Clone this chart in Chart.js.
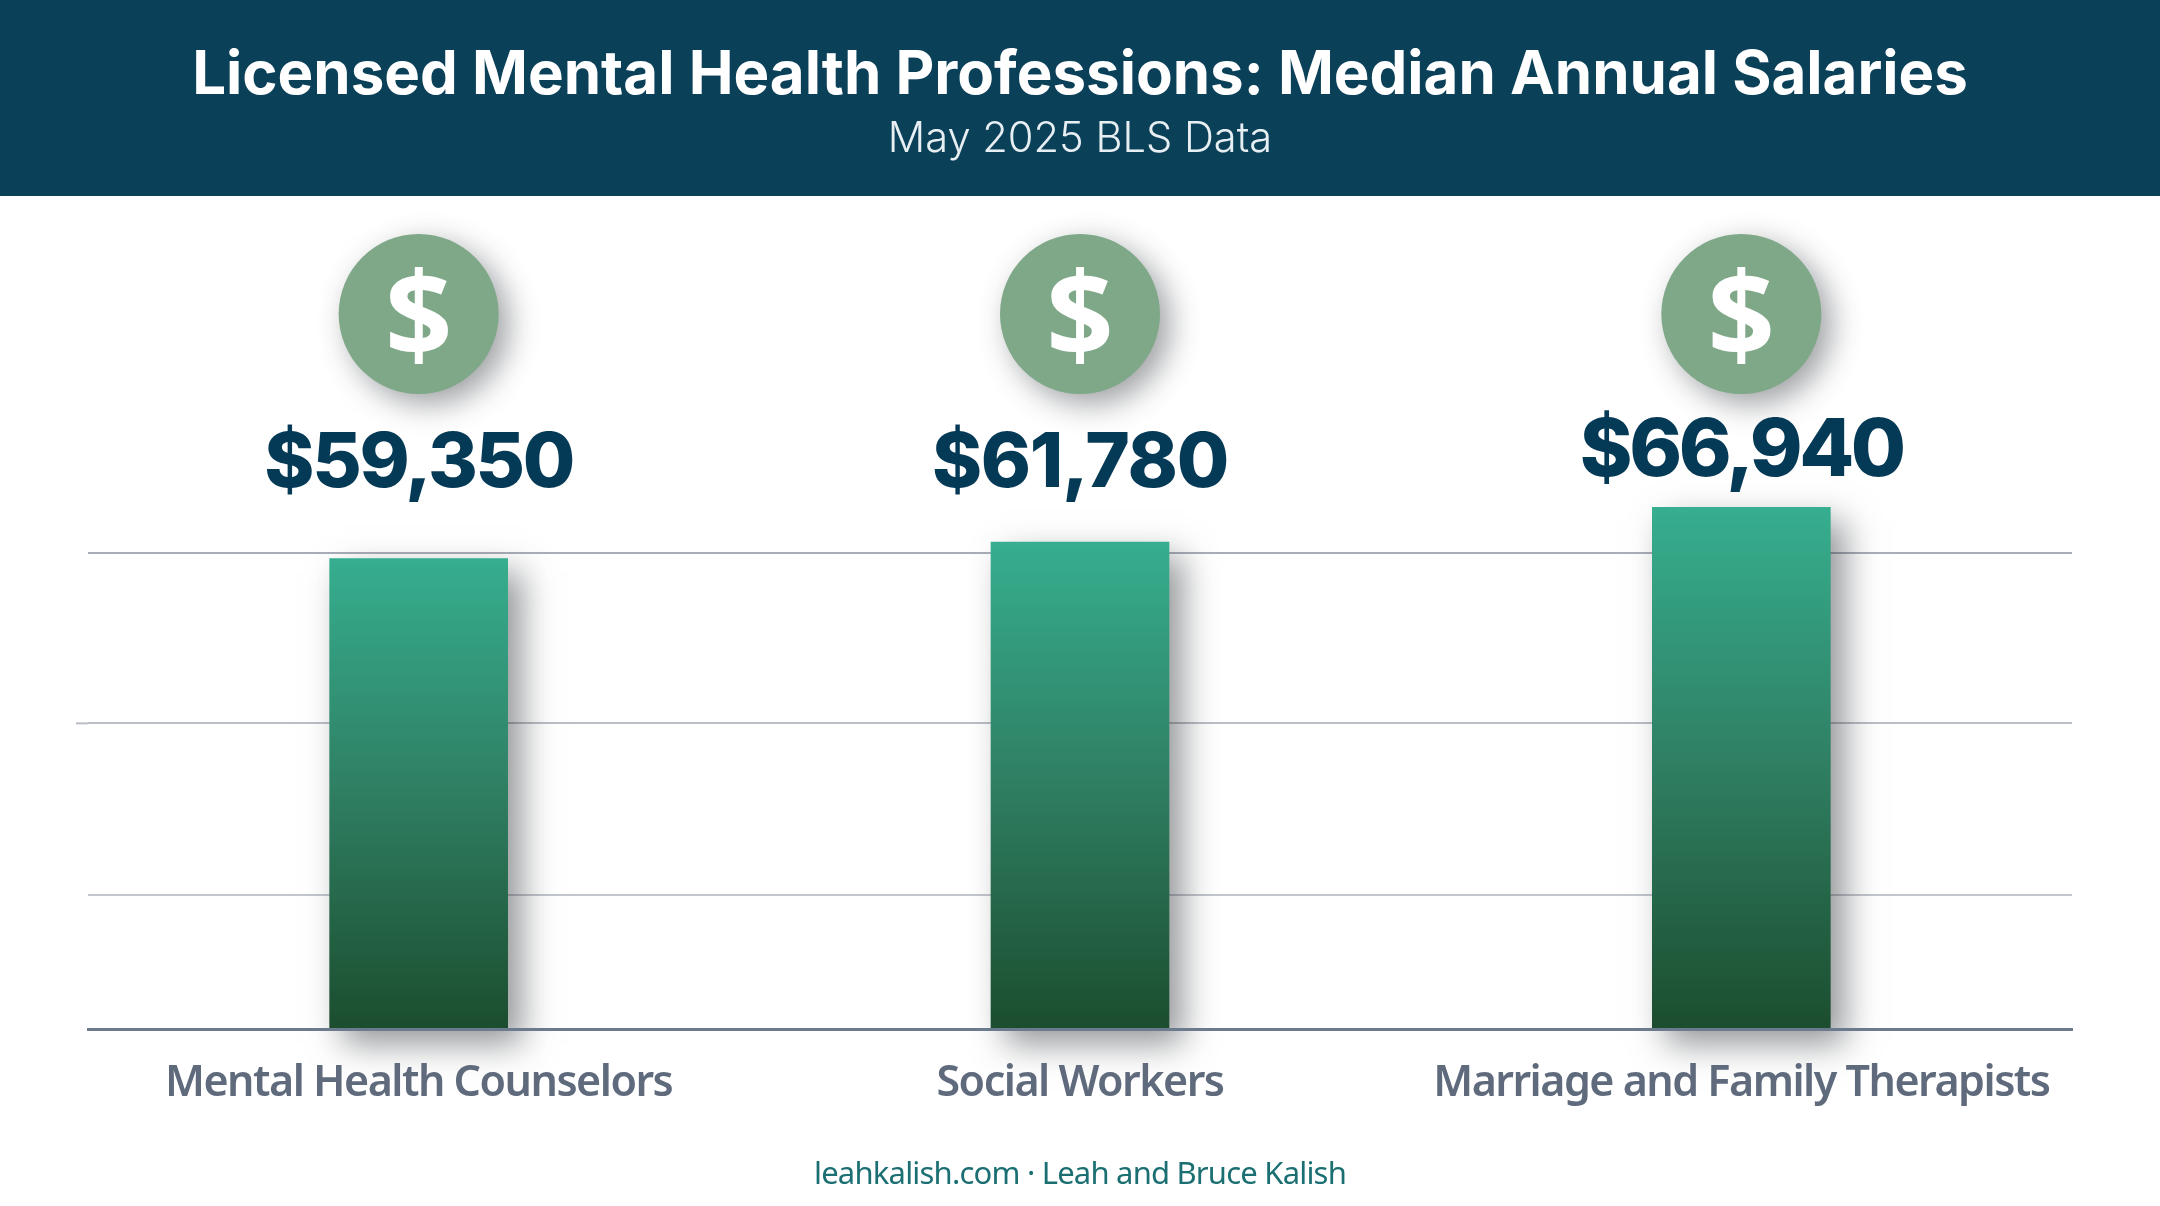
<!DOCTYPE html>
<html>
<head>
<meta charset="utf-8">
<title>Median Annual Salaries</title>
<script src="https://cdn.jsdelivr.net/npm/chart.js@4"></script>
<style>
  html, body { margin: 0; background: #fff; }
  canvas { display: block; }
</style>
</head>
<body>
<canvas id="chart" width="2160" height="1206"></canvas>
<script>
const categories = ["Mental Health Counselors", "Social Workers", "Marriage and Family Therapists"];
const salaries = [59350, 61780, 66940];
// unlabelled gridlines in the chart's own units
const gridValues = [9350, 34870, 60240];

const titleText = "Licensed Mental Health Professions: Median Annual Salaries";
const subtitleText = "May 2025 BLS Data";
const footerText = "leahkalish.com \u00b7 Leah and Bruce Kalish";

// the picture's bars fit this range best, its baseline is not at zero
const yMin = -10590;
const yMax = 69470;

const headerHeight = 196;
const gridColors = ["#c2c6cc", "#b9bdc5", "#a9adb8"];
const valueFontSizes = [76, 76, 80];
const valueSpacing = ["-2.3px", "-1.3px", "-3.4px"];
const valueY = [464, 464, 452];

const headerBand = {
  id: "headerBand",
  beforeDraw(chart) {
    const { ctx, width } = chart;
    ctx.save();
    ctx.fillStyle = "#0b4059";
    ctx.fillRect(0, 0, width, headerHeight);
    ctx.restore();
  },
  beforeDatasetsDraw(chart) {
    // the middle gridline runs a little further left than the others
    const { ctx, chartArea, scales: { y } } = chart;
    const py = y.getPixelForValue(gridValues[1]);
    ctx.save();
    ctx.strokeStyle = gridColors[1];
    ctx.lineWidth = 2;
    ctx.beginPath();
    ctx.moveTo(76, py);
    ctx.lineTo(chartArea.left, py);
    ctx.stroke();
    ctx.restore();
  }
};

const barShadow = {
  id: "barShadow",
  beforeDatasetsDraw(chart) {
    const { ctx } = chart;
    ctx.save();
    ctx.shadowColor = "rgba(40, 45, 50, 0.5)";
    ctx.shadowBlur = 32;
    ctx.shadowOffsetX = 14;
    ctx.shadowOffsetY = 14;
  },
  afterDatasetsDraw(chart) {
    chart.ctx.restore();
    // category labels are drawn next and run narrow in the picture
    chart.ctx.letterSpacing = "-1.5px";
  }
};

const badges = {
  id: "badges",
  afterDraw(chart) {
    const { ctx, scales: { x } } = chart;
    ctx.letterSpacing = "0px";
    categories.forEach((name, i) => {
      const cx = x.getPixelForValue(i);
      ctx.save();
      ctx.shadowColor = "rgba(40, 45, 50, 0.45)";
      ctx.shadowBlur = 30;
      ctx.shadowOffsetX = 10;
      ctx.shadowOffsetY = 10;
      ctx.fillStyle = "#7fa888";
      ctx.beginPath();
      ctx.arc(cx, 314, 80, 0, Math.PI * 2);
      ctx.fill();
      ctx.restore();

      ctx.save();
      ctx.textAlign = "center";
      ctx.textBaseline = "middle";
      ctx.fillStyle = "#fff";
      ctx.font = '700 118px "Open Sans"';
      ctx.fillText("$", cx, 323);
      ctx.fillStyle = "#053a57";
      ctx.letterSpacing = valueSpacing[i];
      ctx.font = `800 ${valueFontSizes[i]}px Inter`;
      ctx.fillText("$" + salaries[i].toLocaleString("en-US"), cx, valueY[i]);
      ctx.restore();
    });

    ctx.save();
    ctx.textAlign = "center";
    ctx.textBaseline = "middle";
    ctx.fillStyle = "#1b6f72";
    ctx.letterSpacing = "-0.8px";
    ctx.font = '31px "Noto Sans"';
    ctx.fillText(footerText, x.getPixelForValue(1), 1175);
    ctx.restore();
  }
};

function barGradient(context) {
  const { chart, parsed } = context;
  if (!chart.chartArea || !parsed) return "#2f7e65";
  const y = chart.scales.y;
  const g = chart.ctx.createLinearGradient(0, y.getPixelForValue(parsed.y), 0, y.getPixelForValue(yMin));
  g.addColorStop(0, "#36ae8f");
  g.addColorStop(0.5, "#2f7e62");
  g.addColorStop(1, "#1b4d2e");
  return g;
}

new Chart(document.querySelector("#chart"), {
  type: "bar",
  data: {
    labels: categories,
    datasets: [{
      data: salaries,
      base: yMin,
      clip: false,
      backgroundColor: barGradient,
      barThickness: 178
    }]
  },
  options: {
    responsive: false,
    animation: false,
    layout: { padding: { left: 88, right: 88, top: 0, bottom: 75 } },
    plugins: {
      legend: { display: false },
      tooltip: { enabled: false },
      title: {
        display: true,
        text: titleText,
        color: "#fff",
        font: { family: "Inter", size: 60, weight: "700" },
        padding: { top: 40, bottom: 0 }
      },
      subtitle: {
        display: true,
        text: subtitleText,
        color: "#e8eff3",
        font: { family: "Inter", size: 41.6, weight: "300" },
        padding: { top: 3, bottom: 325.5 }
      }
    },
    scales: {
      x: {
        border: { color: "#6b7a8c", width: 3, z: 1 },
        grid: { display: false },
        ticks: {
          z: 1,
          color: "#5f6b7d",
          font: { family: "Noto Sans", size: 43, weight: "600" },
          padding: 21,
          maxRotation: 0,
          autoSkip: false
        }
      },
      y: {
        min: yMin,
        max: yMax,
        afterBuildTicks(axis) {
          axis.ticks = gridValues.map((value) => ({ value }));
        },
        border: { display: false },
        ticks: { display: false },
        grid: { color: (c) => gridColors[c.index], lineWidth: 2, drawTicks: false }
      }
    }
  },
  plugins: [headerBand, barShadow, badges]
});
</script>
</body>
</html>
